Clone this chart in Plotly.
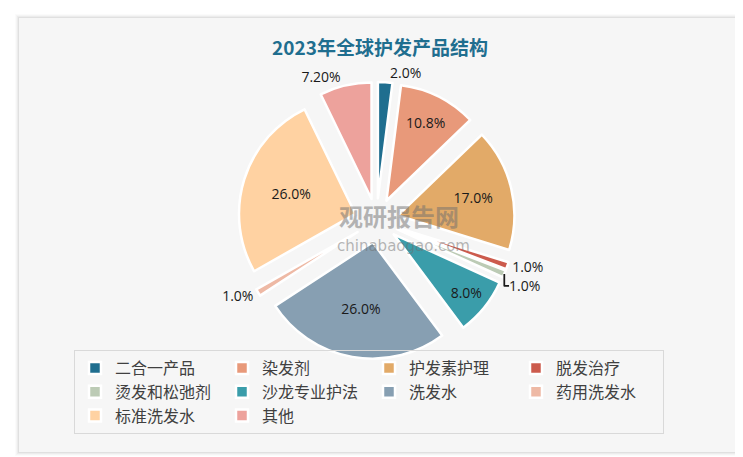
import plotly.graph_objects as go

categories = ["二合一产品", "染发剂", "护发素护理", "脱发治疗", "烫发和松弛剂",
              "沙龙专业护法", "洗发水", "药用洗发水", "标准洗发水", "其他"]
values = [2.0, 10.8, 17.0, 1.0, 1.0, 8.0, 26.0, 1.0, 26.0, 7.2]
value_labels = ["2.0%", "10.8%", "17.0%", "1.0%", "1.0%", "8.0%", "26.0%", "1.0%", "26.0%", "7.20%"]
colors = ["#1F6E8F", "#E8997A", "#E2AA68", "#CC5B4D", "#BCCBB5",
          "#3A9DAA", "#879FB2", "#EEB9A5", "#FFD2A2", "#EDA29C"]
positions = ["outside", "inside", "inside", "outside", "outside",
             "inside", "inside", "outside", "inside", "outside"]

W, H = 743, 457
R_MARGIN = 100
PW = W - R_MARGIN  # plot-area width used for paper coordinates


def px(x):
    return x / PW


def py(y):
    return 1 - y / H


fig = go.Figure()
fig.add_trace(go.Pie(
    labels=categories,
    values=values,
    text=value_labels,
    textinfo="text",
    textposition=positions,
    insidetextorientation="horizontal",
    textfont=dict(family="Open Sans, Noto Sans", size=14, color="#1a1a1a"),
    outsidetextfont=dict(family="Open Sans, Noto Sans", size=14, color="#1a1a1a"),
    insidetextfont=dict(family="Open Sans, Noto Sans", size=14, color="#1a1a1a"),
    marker=dict(colors=colors, line=dict(color="white", width=2.5)),
    pull=0.19,
    sort=False,
    direction="clockwise",
    rotation=0,
    domain=dict(x=[px(230), px(507)], y=[py(351), py(74)]),
    hoverinfo="label+text",
))

# panel background with soft shadow
shapes = []
for i, a in enumerate([0.015, 0.025, 0.035, 0.05]):
    d = 4 - i
    shapes.append(dict(type="rect", xref="paper", yref="paper", layer="below",
                       x0=px(11 - d), x1=px(733 + d), y0=py(444 + d), y1=py(10 - d),
                       fillcolor=f"rgba(0,0,0,{a})", line=dict(width=0)))
shapes.append(dict(type="rect", xref="paper", yref="paper", layer="below",
                   x0=px(11), x1=px(733), y0=py(444), y1=py(10),
                   fillcolor="#F6F6F6", line=dict(width=0)))

fig.update_layout(
    width=W, height=H,
    margin=dict(l=0, r=R_MARGIN, t=0, b=0),
    paper_bgcolor="white",
    plot_bgcolor="white",
    shapes=shapes,
    title=dict(text="<b>2023年全球护发产品结构</b>", x=372 / W, xanchor="center",
               y=1 - 40 / H, yanchor="middle",
               font=dict(family="Noto Sans CJK SC", size=19, color="#1F6E8F")),
    legend=dict(orientation="h", x=px(66), xanchor="left", y=py(342), yanchor="top",
                bordercolor="#D9D9D9", borderwidth=1, bgcolor="rgba(0,0,0,0)",
                entrywidth=102, entrywidthmode="pixels",
                font=dict(family="Noto Sans CJK SC", size=16, color="#404040"),
                traceorder="normal", tracegroupgap=0, itemwidth=30),
    annotations=[
        dict(text="<b>观研报告网</b>", x=px(391), y=py(207), xref="paper", yref="paper",
             showarrow=False, font=dict(family="Noto Sans CJK SC", size=24,
                                        color="rgba(110,110,110,0.5)")),
        dict(text="chinabaogao.com", x=px(395), y=py(238), xref="paper", yref="paper",
             showarrow=False, font=dict(family="DejaVu Sans", size=15,
                                        color="rgba(110,110,110,0.5)")),
    ],
)

fig.write_html("out.html")
